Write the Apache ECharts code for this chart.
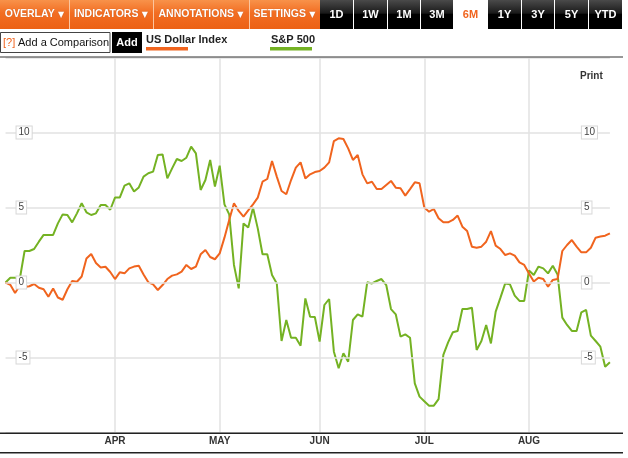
<!DOCTYPE html>
<html>
<head>
<meta charset="utf-8">
<style>
  html, body { margin: 0; padding: 0; background: #fff; }
  #chart { width: 628px; height: 458px; }
</style>
<script src="https://cdn.jsdelivr.net/npm/echarts@6/dist/echarts.min.js"></script>
</head>
<body>
<div id="chart"></div>
<script>
// Weekday categories, 1 Mar 2010 – 25 Aug 2010
const dates = [
  '2010-03-01','2010-03-02','2010-03-03','2010-03-04','2010-03-05','2010-03-08','2010-03-09','2010-03-10','2010-03-11','2010-03-12',
  '2010-03-15','2010-03-16','2010-03-17','2010-03-18','2010-03-19','2010-03-22','2010-03-23','2010-03-24','2010-03-25','2010-03-26',
  '2010-03-29','2010-03-30','2010-03-31',
  '2010-04-01','2010-04-02','2010-04-05','2010-04-06','2010-04-07','2010-04-08','2010-04-09','2010-04-12','2010-04-13','2010-04-14',
  '2010-04-15','2010-04-16','2010-04-19','2010-04-20','2010-04-21','2010-04-22','2010-04-23','2010-04-26','2010-04-27','2010-04-28',
  '2010-04-29','2010-04-30',
  '2010-05-03','2010-05-04','2010-05-05','2010-05-06','2010-05-07','2010-05-10','2010-05-11','2010-05-12','2010-05-13','2010-05-14',
  '2010-05-17','2010-05-18','2010-05-19','2010-05-20','2010-05-21','2010-05-24','2010-05-25','2010-05-26','2010-05-27','2010-05-28',
  '2010-05-31',
  '2010-06-01','2010-06-02','2010-06-03','2010-06-04','2010-06-07','2010-06-08','2010-06-09','2010-06-10','2010-06-11','2010-06-14',
  '2010-06-15','2010-06-16','2010-06-17','2010-06-18','2010-06-21','2010-06-22','2010-06-23','2010-06-24','2010-06-25','2010-06-28',
  '2010-06-29','2010-06-30',
  '2010-07-01','2010-07-02','2010-07-05','2010-07-06','2010-07-07','2010-07-08','2010-07-09','2010-07-12','2010-07-13','2010-07-14',
  '2010-07-15','2010-07-16','2010-07-19','2010-07-20','2010-07-21','2010-07-22','2010-07-23','2010-07-26','2010-07-27','2010-07-28',
  '2010-07-29','2010-07-30',
  '2010-08-02','2010-08-03','2010-08-04','2010-08-05','2010-08-06','2010-08-09','2010-08-10','2010-08-11','2010-08-12','2010-08-13',
  '2010-08-16','2010-08-17','2010-08-18','2010-08-19','2010-08-20','2010-08-23','2010-08-24','2010-08-25'
];

// % change, US Dollar Index
const usDollarIndex = [
  0, -0.15, -0.7, -0.2, -0.3, -0.25, -0.1, -0.35, -0.45, -0.95,
  -0.4, -1.0, -1.15, -0.45, 0.1, 0.05, 0.4, 1.6, 1.9, 1.3,
  1.0, 1.05, 0.7,
  0.23, 0.68, 0.61, 0.94, 1.06, 1.12, 0.54, 0.01, -0.12, -0.5,
  -0.17, 0.23, 0.46, 0.54, 0.72, 1.17, 0.9, 1.06, 1.88, 2.17,
  1.7, 1.55,
  1.94, 2.99, 4.17, 5.28, 4.77, 4.39, 4.81, 5.21, 5.66, 6.72,
  6.9, 8.1, 7.06, 6.1, 5.88, 6.83, 7.66, 8.01, 6.94, 7.21,
  7.36,
  7.43, 7.66, 8.01, 9.43, 9.61, 9.57, 8.94, 8.17, 8.5, 7.21,
  6.61, 6.72, 6.23, 6.23, 6.5, 6.77, 6.32, 6.28, 5.79, 6.23,
  6.68, 6.61,
  5.0, 4.72, 4.9, 4.28, 4.01, 4.01, 4.17, 4.46, 3.72, 3.43,
  2.39, 2.32, 2.39, 2.72, 3.43, 2.46, 2.23, 1.83, 1.94, 1.79,
  1.34, 1.17,
  0.6, 0.06, 0.32, 0.23, -0.28, 0.17, 0.23, 2.1, 2.5, 2.83,
  2.39, 2.01, 2.01, 2.32, 2.99, 3.06, 3.12, 3.28
];

// % change, S&P 500
const sp500 = [
  0, 0.32, 0.32, 0.25, 2.1, 2.1, 2.23, 2.72, 3.17, 3.17,
  3.17, 3.94, 4.54, 4.5, 4.01, 4.61, 5.28, 4.68, 4.5, 4.61,
  5.17, 5.17, 4.85,
  5.66, 5.66, 6.46, 6.61, 6.06, 6.34, 7.06, 7.28, 7.39, 8.5,
  8.54, 6.94, 7.61, 8.23, 8.1, 8.32, 9.06, 8.61, 6.17, 6.83,
  8.17, 6.39,
  7.79, 5.21, 4.54, 1.17, -0.39, 3.94, 3.66, 4.99, 3.61, 1.88,
  1.88, 0.5, -0.06, -3.9, -2.5, -3.68, -3.68, -4.21, -1.06, -2.28,
  -2.3,
  -3.94, -1.5, -1.1, -4.61, -5.72, -4.72, -5.28, -2.5, -2.12, -2.28,
  0.01, -0.06, 0.1, 0.23, -0.17, -1.77, -2.12, -3.61, -3.46, -3.68,
  -6.72, -7.61,
  -7.92, -8.21, -8.21, -7.77, -4.83, -3.99, -3.32, -3.23, -1.77, -1.77,
  -1.68, -4.5, -3.9, -2.83, -4.06, -1.94, -1.01, -0.06, -0.12, -0.88,
  -1.23, -1.23,
  0.8, 0.5, 1.06, 0.94, 0.61, 1.12, 0.54, -2.34, -2.83, -3.23,
  -3.23, -1.99, -1.83, -3.54, -3.9, -4.28, -5.61, -5.32
];

const monthNames = ['JAN','FEB','MAR','APR','MAY','JUN','JUL','AUG','SEP','OCT','NOV','DEC'];
const yTickLabels = [10, 5, 0, -5];
const menuItems = ['OVERLAY', 'INDICATORS', 'ANNOTATIONS', 'SETTINGS'];
const rangeItems = ['1D', '1W', '1M', '3M', '6M', '1Y', '3Y', '5Y', 'YTD'];
const seriesNames = ['US Dollar Index', 'S&P 500'];

const ORANGE = '#f0641e';
const GREEN = '#74b223';
const FONT = '"Liberation Sans", Arial, Helvetica, sans-serif';

function isMonthStart(i) {
  if (i === 0) return false;
  return dates[i].slice(5, 7) !== dates[i - 1].slice(5, 7);
}

// ---------- toolbar graphics ----------
const graphics = [];
const menuBounds = [[0, 69], [69, 153], [153, 249], [249, 320]];
graphics.push({
  type: 'rect', shape: { x: 0, y: 0, width: 320, height: 29 },
  style: { fill: new echarts.graphic.LinearGradient(0, 0, 0, 1, [
    { offset: 0, color: '#f8924a' }, { offset: 0.45, color: '#f26d22' }, { offset: 1, color: '#ec6114' }]) },
  silent: true
});
menuBounds.forEach((b, k) => {
  if (k > 0) graphics.push({ type: 'rect', shape: { x: b[0], y: 0, width: 1, height: 29 }, style: { fill: '#fbc59f' }, silent: true });
  graphics.push({
    type: 'text', x: (b[0] + b[1]) / 2, y: 14.5,
    style: {
      text: '{t|' + menuItems[k] + '} {a|▼}',
      rich: {
        t: { fill: '#fff', font: 'bold 10.5px ' + FONT },
        a: { fill: '#fff', font: '8px "DejaVu Sans", sans-serif' }
      },
      align: 'center', verticalAlign: 'middle',
      textShadowColor: 'rgba(120,40,0,0.5)', textShadowBlur: 1
    },
    silent: true
  });
});
const rangeEdges = [320, 354, 388, 421, 454, 488, 522, 555, 589, 623];
rangeItems.forEach((t, k) => {
  const x0 = rangeEdges[k], x1 = rangeEdges[k + 1] - 1;
  const active = t === '6M';
  graphics.push({
    type: 'rect', shape: { x: x0, y: 0, width: x1 - x0, height: 29 },
    style: { fill: active ? '#ffffff' : new echarts.graphic.LinearGradient(0, 0, 0, 1, [
      { offset: 0, color: '#4a4a4a' }, { offset: 0.45, color: '#1a1a1a' }, { offset: 0.5, color: '#000' }, { offset: 1, color: '#000' }]) },
    silent: true
  });
  graphics.push({
    type: 'text', x: (x0 + x1) / 2, y: 14.5,
    style: { text: t, fill: active ? ORANGE : '#fff', font: 'bold 11px ' + FONT, align: 'center', verticalAlign: 'middle' },
    silent: true
  });
});
// comparison input
graphics.push({ type: 'rect', shape: { x: 0.5, y: 32.5, width: 109.5, height: 20 }, style: { fill: '#fff', stroke: '#444', lineWidth: 1 }, silent: true });
graphics.push({ type: 'text', x: 3, y: 43, style: { text: '[?]', fill: ORANGE, font: '11px ' + FONT, verticalAlign: 'middle' }, silent: true });
graphics.push({ type: 'text', x: 18, y: 43, style: { text: 'Add a Comparison', fill: '#111', font: '11px ' + FONT, verticalAlign: 'middle' }, silent: true });
graphics.push({ type: 'rect', shape: { x: 112, y: 32, width: 30, height: 21 }, style: { fill: '#000' }, silent: true });
graphics.push({ type: 'text', x: 127, y: 43, style: { text: 'Add', fill: '#fff', font: 'bold 11px ' + FONT, align: 'center', verticalAlign: 'middle' }, silent: true });
// legend
graphics.push({ type: 'text', x: 146, y: 40, style: { text: seriesNames[0], fill: '#222', font: 'bold 11px ' + FONT, verticalAlign: 'middle' }, silent: true });
graphics.push({ type: 'rect', shape: { x: 146, y: 47, width: 42, height: 3.5 }, style: { fill: ORANGE }, silent: true });
graphics.push({ type: 'text', x: 271, y: 40, style: { text: seriesNames[1], fill: '#222', font: 'bold 11px ' + FONT, verticalAlign: 'middle' }, silent: true });
graphics.push({ type: 'rect', shape: { x: 270, y: 47, width: 42, height: 3.5 }, style: { fill: GREEN }, silent: true });
// frame lines
graphics.push({ type: 'rect', shape: { x: 0, y: 56.5, width: 623, height: 1 }, style: { fill: '#333' }, silent: true, z: 10 });
graphics.push({ type: 'rect', shape: { x: 0, y: 432.5, width: 623, height: 1.5 }, style: { fill: '#222' }, silent: true, z: 10 });
graphics.push({ type: 'rect', shape: { x: 0, y: 452, width: 623, height: 1.5 }, style: { fill: '#222' }, silent: true, z: 10 });
// print
graphics.push({ type: 'text', x: 580, y: 76, style: { text: 'Print', fill: '#333', font: 'bold 10px ' + FONT, verticalAlign: 'middle' }, silent: true });

const yLabelStyle = {
  inside: true,
  showMinLabel: false,
  showMaxLabel: false,
  color: '#444',
  fontSize: 10,
  fontFamily: FONT,
  backgroundColor: '#fff',
  borderColor: '#d8d8d8',
  borderWidth: 1,
  padding: [1, 2, 1, 2],
  formatter: v => (yTickLabels.indexOf(v) >= 0 ? String(v) : '')
};

const chart = echarts.init(document.getElementById('chart'), null, { renderer: 'canvas' });
chart.setOption({
  animation: false,
  backgroundColor: '#fff',
  grid: { left: 5.55, right: 18.1, top: 57.5, bottom: 25.5, containLabel: false },
  xAxis: {
    type: 'category',
    data: dates,
    boundaryGap: false,
    axisLine: { show: false },
    axisTick: { show: false, interval: isMonthStart },
    axisLabel: {
      interval: isMonthStart,
      formatter: (v) => monthNames[parseInt(v.slice(5, 7), 10) - 1],
      color: '#333', fontSize: 10, fontWeight: 'bold', fontFamily: FONT, margin: 4
    },
    splitLine: { show: true, interval: isMonthStart, lineStyle: { color: '#e2e2e2', width: 1.5 } }
  },
  yAxis: [
    {
      type: 'value', min: -10, max: 15, interval: 5, position: 'left', z: 5,
      axisLine: { show: false }, axisTick: { show: false },
      axisLabel: Object.assign({ margin: 11 }, yLabelStyle),
      splitLine: { show: true, lineStyle: { color: '#e2e2e2', width: 1.5 } }
    },
    {
      type: 'value', min: -10, max: 15, interval: 5, position: 'right', z: 5,
      axisLine: { show: false }, axisTick: { show: false },
      axisLabel: Object.assign({ margin: 28, align: 'left' }, yLabelStyle),
      splitLine: { show: false }
    }
  ],
  series: [
    {
      name: seriesNames[0], type: 'line', data: usDollarIndex, yAxisIndex: 0,
      showSymbol: false, symbol: 'none', smooth: false,
      lineStyle: { color: ORANGE, width: 2 }, z: 3
    },
    {
      name: seriesNames[1], type: 'line', data: sp500, yAxisIndex: 0,
      showSymbol: false, symbol: 'none', smooth: false,
      lineStyle: { color: GREEN, width: 2 }, z: 2
    }
  ],
  graphic: graphics
});
</script>
</body>
</html>
